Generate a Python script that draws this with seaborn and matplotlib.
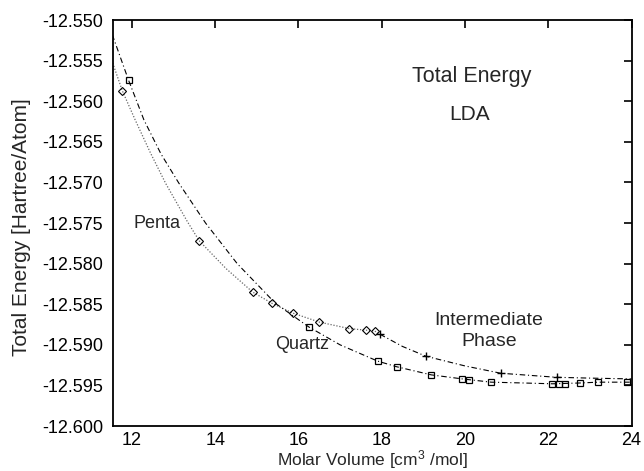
import numpy as np
import pandas as pd
import matplotlib
matplotlib.use("Agg")
import matplotlib.pyplot as plt
import seaborn as sns
from matplotlib.ticker import FormatStrFormatter

# Computed LDA total energies (Hartree/atom) vs molar volume (cm^3/mol)
penta_v = [11.77, 13.62, 14.90, 15.37, 15.87, 16.50, 17.22, 17.63, 17.83]
penta_e = [-12.5587, -12.5772, -12.5835, -12.5849, -12.5861, -12.5872, -12.5880, -12.5882, -12.5883]

quartz_v = [11.92, 16.25, 17.90, 18.36, 19.19, 19.94, 20.10, 20.63, 22.10, 22.26, 22.40, 22.76, 23.20, 23.90]
quartz_e = [-12.5574, -12.5878, -12.5920, -12.5927, -12.5937, -12.5942, -12.5943, -12.5946,
            -12.5948, -12.5948, -12.5948, -12.5947, -12.5946, -12.5946]

inter_v = [17.96, 19.06, 20.86, 22.20]
inter_e = [-12.5887, -12.5914, -12.5935, -12.5940]

# Fitted equation-of-state curves, sampled along each fit
penta_fit_v = [11.54, 11.77, 12.08, 12.45, 12.81, 13.33, 13.62, 14.26, 14.90, 15.37, 15.87,
               16.50, 17.22, 17.63, 17.83, 17.96]
penta_fit_e = [-12.5553, -12.5587, -12.5623, -12.5664, -12.5701, -12.5748, -12.5772, -12.5806,
               -12.5835, -12.5849, -12.5861, -12.5872, -12.5880, -12.5882, -12.5883, -12.5887]

quartz_fit_v = [11.53, 11.92, 12.29, 12.70, 13.13, 13.77, 14.53, 15.45, 16.25, 17.00, 17.90,
                18.36, 19.19, 19.94, 20.63, 21.40, 22.10, 22.76, 23.20, 24.00]
quartz_fit_e = [-12.5518, -12.5574, -12.5623, -12.5665, -12.5701, -12.5750, -12.5800, -12.5849,
                -12.5878, -12.5900, -12.5920, -12.5927, -12.5937, -12.5942, -12.5946, -12.5947,
                -12.5948, -12.5947, -12.5946, -12.5946]

inter_fit_v = [17.96, 18.50, 19.06, 20.00, 20.86, 22.20, 23.00, 24.00]
inter_fit_e = [-12.5887, -12.5902, -12.5914, -12.5926, -12.5935, -12.5940, -12.5941, -12.5942]

x_ticks = [12, 14, 16, 18, 20, 22, 24]
y_ticks = [-12.600, -12.595, -12.590, -12.585, -12.580, -12.575, -12.570,
           -12.565, -12.560, -12.555, -12.550]

sns.set_theme(style="white")
plt.rcParams["font.family"] = ["Liberation Sans", "DejaVu Sans"]
plt.rcParams["mathtext.default"] = "regular"

fig = plt.figure(figsize=(6.44, 4.71), dpi=100)
ax = fig.add_axes([0.175, 0.0955, 0.8056, 0.862])

dash_dot = (0, (5, 2.5, 1, 2.5))

sns.lineplot(x=penta_fit_v, y=penta_fit_e, ax=ax, color="0.4", lw=0.9,
             linestyle=(0, (1, 1.4)), sort=False, estimator=None)
sns.lineplot(x=quartz_fit_v, y=quartz_fit_e, ax=ax, color="black", lw=0.8,
             linestyle=dash_dot, sort=False, estimator=None)
sns.lineplot(x=inter_fit_v, y=inter_fit_e, ax=ax, color="black", lw=0.8,
             linestyle=dash_dot, sort=False, estimator=None)

sns.lineplot(x=penta_v, y=penta_e, ax=ax, linestyle="none", marker="D", markersize=3.6,
             markerfacecolor="none", markeredgecolor="black", markeredgewidth=0.8,
             estimator=None)
sns.lineplot(x=quartz_v, y=quartz_e, ax=ax, linestyle="none", marker="s", markersize=5,
             markerfacecolor="none", markeredgecolor="black", markeredgewidth=0.9,
             estimator=None)
sns.lineplot(x=inter_v, y=inter_e, ax=ax, linestyle="none", marker="+", markersize=6,
             markeredgecolor="black", markeredgewidth=1.0, estimator=None)

ax.set_xlim(11.54, 24.0)
ax.set_ylim(-12.600, -12.550)
ax.set_xticks(x_ticks)
ax.set_yticks(y_ticks)
ax.yaxis.set_major_formatter(FormatStrFormatter("%.3f"))
ax.tick_params(direction="in", length=6, width=1.2, top=True, right=True,
               labelsize=13, colors="black")
ax.tick_params(axis="y", pad=7)
ax.tick_params(axis="x", pad=4)
for s in ax.spines.values():
    s.set_color("black")
    s.set_linewidth(1.3)

ax.set_xlabel("Molar Volume [cm$^{3}$ /mol]", fontsize=12.5, labelpad=0)
ax.set_ylabel("Total Energy [Hartree/Atom]", fontsize=15)
ax.yaxis.set_label_coords(-0.157, 0.49)

ax.text(20.17, -12.5570, "Total Energy", fontsize=15.5, ha="center", va="center")
ax.text(20.12, -12.5616, "LDA", fontsize=15, ha="center", va="center")
ax.text(12.03, -12.5750, "Penta", fontsize=13, ha="left", va="center")
ax.text(16.08, -12.5899, "Quartz", fontsize=13, ha="center", va="center")
ax.text(20.58, -12.5883, "Intermediate\nPhase", fontsize=14, ha="center", va="center",
        linespacing=1.25)

fig.savefig("out.png", dpi=100)
